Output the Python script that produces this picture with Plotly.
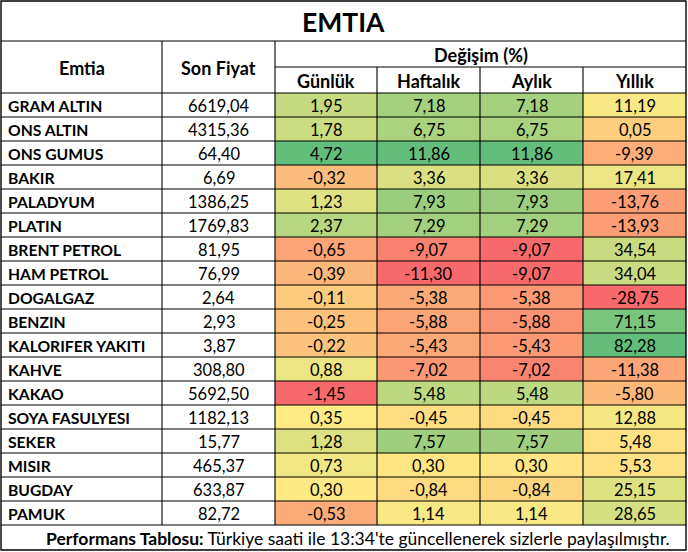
import numpy as np
import plotly.graph_objects as go

# ---------------- data ----------------
title = "EMTIA"
header_name = "Emtia"
header_price = "Son Fiyat"
header_change = "Değişim (%)"
period_labels = ["Günlük", "Haftalık", "Aylık", "Yıllık"]
footer_bold = "Performans Tablosu:"
footer_text = " Türkiye saati ile 13:34'te güncellenerek sizlerle paylaşılmıştır."

commodities = ["GRAM ALTIN", "ONS ALTIN", "ONS GUMUS", "BAKIR", "PALADYUM", "PLATIN",
               "BRENT PETROL", "HAM PETROL", "DOGALGAZ", "BENZIN", "KALORIFER YAKITI",
               "KAHVE", "KAKAO", "SOYA FASULYESI", "SEKER", "MISIR", "BUGDAY", "PAMUK"]
last_price = [6619.04, 4315.36, 64.40, 6.69, 1386.25, 1769.83, 81.95, 76.99, 2.64, 2.93,
              3.87, 308.80, 5692.50, 1182.13, 15.77, 465.37, 633.87, 82.72]
daily = [1.95, 1.78, 4.72, -0.32, 1.23, 2.37, -0.65, -0.39, -0.11, -0.25, -0.22, 0.88,
         -1.45, 0.35, 1.28, 0.73, 0.30, -0.53]
weekly = [7.18, 6.75, 11.86, 3.36, 7.93, 7.29, -9.07, -11.30, -5.38, -5.88, -5.43, -7.02,
          5.48, -0.45, 7.57, 0.30, -0.84, 1.14]
monthly = [7.18, 6.75, 11.86, 3.36, 7.93, 7.29, -9.07, -9.07, -5.38, -5.88, -5.43, -7.02,
           5.48, -0.45, 7.57, 0.30, -0.84, 1.14]
yearly = [11.19, 0.05, -9.39, 17.41, -13.76, -13.93, 34.54, 34.04, -28.75, 71.15, 82.28,
          -11.38, -5.80, 12.88, 5.48, 5.53, 25.15, 28.65]

# ---------------- layout / style ----------------
W, H = 688, 552
FONT = "Lato"
RED, YEL, GRN = "#F8696B", "#FFEB84", "#63BE7B"
col_edges = [1, 162, 275, 377, 480, 583, 686]
top, title_bot, sub_top, head_bot = 1, 41, 67, 93
row_h = 24
n = len(commodities)
row_edges = [head_bot + row_h * k for k in range(n + 1)]
table_bot = row_edges[-1]
bottom = 550
footer_x = 358

S_TITLE, S_HEAD, S_NAME, S_NUM, S_FOOT = 26.5, 18, 15.7, 16.5, 17.5


def fmt(v):
    return f"{v:.2f}".replace(".", ",")


fig = go.Figure()

# colour-scaled cells (Excel style 3-colour scale, per column)
series = [daily, weekly, monthly, yearly]
for j, vals in enumerate(series):
    arr = np.array(vals, dtype=float)
    lo, hi, med = arr.min(), arr.max(), np.median(arr)
    p = (med - lo) / (hi - lo)
    fig.add_trace(go.Heatmap(
        x=[col_edges[2 + j], col_edges[3 + j]],
        y=row_edges,
        z=arr.reshape(-1, 1),
        zmin=lo, zmax=hi,
        colorscale=[[0, RED], [p, YEL], [1, GRN]],
        showscale=False, hoverinfo="skip",
    ))

shapes = []


def line(x0, y0, x1, y1, w=1.1):
    shapes.append(dict(type="line", x0=x0, y0=y0, x1=x1, y1=y1, xref="x", yref="y",
                       line=dict(color="black", width=w), layer="above"))


# outer border
shapes.append(dict(type="rect", x0=col_edges[0], y0=top, x1=col_edges[-1], y1=bottom,
                   xref="x", yref="y", line=dict(color="black", width=1.4), layer="above"))
line(col_edges[0], title_bot, col_edges[-1], title_bot)
line(col_edges[2], sub_top, col_edges[-1], sub_top)
for y in row_edges:
    line(col_edges[0], y, col_edges[-1], y)
for x in col_edges[1:3]:
    line(x, title_bot, x, table_bot)
for x in col_edges[3:-1]:
    line(x, sub_top, x, table_bot)

ann = []


def text(x, y, s, size, bold=False, xanchor="center"):
    ann.append(dict(x=x, y=y, xref="x", yref="y", text=f"<b>{s}</b>" if bold else s,
                    showarrow=False, xanchor=xanchor, yanchor="middle",
                    font=dict(family=FONT, size=size, color="black")))


text((col_edges[0] + col_edges[-1]) / 2, (top + title_bot) / 2 + 1, title, S_TITLE, True)
text((col_edges[0] + col_edges[1]) / 2, (title_bot + head_bot) / 2 + 1, header_name, S_HEAD, True)
text((col_edges[1] + col_edges[2]) / 2, (title_bot + head_bot) / 2 + 1, header_price, S_HEAD, True)
text((col_edges[2] + col_edges[-1]) / 2, (title_bot + sub_top) / 2 + 1, header_change, S_HEAD, True)
for j, lab in enumerate(period_labels):
    text((col_edges[2 + j] + col_edges[3 + j]) / 2, (sub_top + head_bot) / 2 + 1, lab, S_HEAD, True)

for i in range(n):
    yc = (row_edges[i] + row_edges[i + 1]) / 2 + 0.5
    text(col_edges[0] + 5, yc, commodities[i], S_NAME, True, xanchor="left")
    text((col_edges[1] + col_edges[2]) / 2, yc, fmt(last_price[i]), S_NUM)
    for j, vals in enumerate(series):
        text((col_edges[2 + j] + col_edges[3 + j]) / 2, yc, fmt(vals[i]), S_NUM)

text(footer_x, (table_bot + bottom) / 2 + 1,
     f"<b>{footer_bold}</b>{footer_text}", S_FOOT)

fig.update_layout(
    width=W, height=H,
    margin=dict(l=0, r=0, t=0, b=0),
    paper_bgcolor="white", plot_bgcolor="white",
    xaxis=dict(range=[0, W], visible=False, fixedrange=True),
    yaxis=dict(range=[H, 0], visible=False, fixedrange=True),
    shapes=shapes, annotations=ann, showlegend=False,
)

fig.write_html("out.html", config={"displayModeBar": False},
               post_script="document.body.style.margin='0';document.body.style.overflow='hidden';")
